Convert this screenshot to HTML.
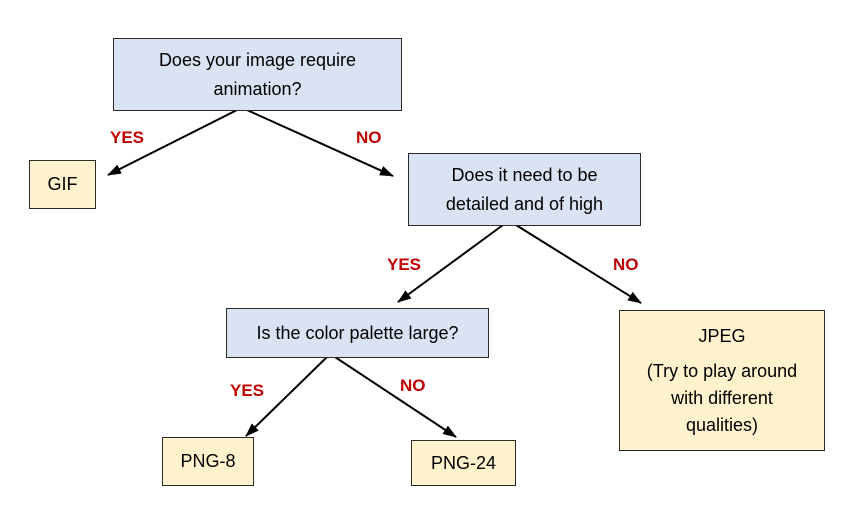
<!DOCTYPE html>
<html><head><style>
body{margin:0;width:860px;height:523px;background:#fff;position:relative;font-family:"Liberation Sans",sans-serif;overflow:hidden}
.b{position:absolute;box-sizing:border-box;border:1.3px solid #2a2a2a;display:flex;align-items:center;justify-content:center;text-align:center;font-size:18px;line-height:29px;color:#000}
.q{background:#dae3f3}.a{background:#fff2cc}
.l{position:absolute;color:#c00000;font-weight:bold;font-size:17px}
svg{position:absolute;left:0;top:0}
</style></head><body>
<svg width="860" height="523">
<defs><marker id="m" markerWidth="14" markerHeight="10" refX="13" refY="5" orient="auto" markerUnits="userSpaceOnUse"><path d="M0,0L14,5L0,10z" fill="#000"/></marker></defs>
<g stroke="#000" stroke-width="2" marker-end="url(#m)">
<line x1="237" y1="110" x2="108" y2="175"/>
<line x1="247" y1="110" x2="393" y2="176"/>
<line x1="503" y1="225" x2="398" y2="302"/>
<line x1="516" y1="225" x2="641" y2="303"/>
<line x1="327" y1="357" x2="246" y2="436"/>
<line x1="335" y1="357" x2="456" y2="437"/>
</g></svg>
<div class="b q" style="left:113px;top:38px;width:289px;height:73px"><div>Does your image require<br>animation?</div></div>
<div class="b a" style="left:29px;top:160px;width:67px;height:49px">GIF</div>
<div class="b q" style="left:408px;top:153px;width:233px;height:73px"><div>Does it need to be<br>detailed and of high</div></div>
<div class="b q" style="left:226px;top:308px;width:263px;height:50px">Is the color palette large?</div>
<div class="b a" style="left:619px;top:310px;width:206px;height:141px;line-height:27px"><div>JPEG<div style="height:8px"></div>(Try to play around<br>with different<br>qualities)</div></div>
<div class="b a" style="left:162px;top:437px;width:92px;height:49px">PNG-8</div>
<div class="b a" style="left:411px;top:440px;width:105px;height:46px">PNG-24</div>
<div class="l" style="left:110px;top:128px">YES</div>
<div class="l" style="left:356px;top:128px">NO</div>
<div class="l" style="left:387px;top:255px">YES</div>
<div class="l" style="left:613px;top:255px">NO</div>
<div class="l" style="left:230px;top:381px">YES</div>
<div class="l" style="left:400px;top:376px">NO</div>
</body></html>
